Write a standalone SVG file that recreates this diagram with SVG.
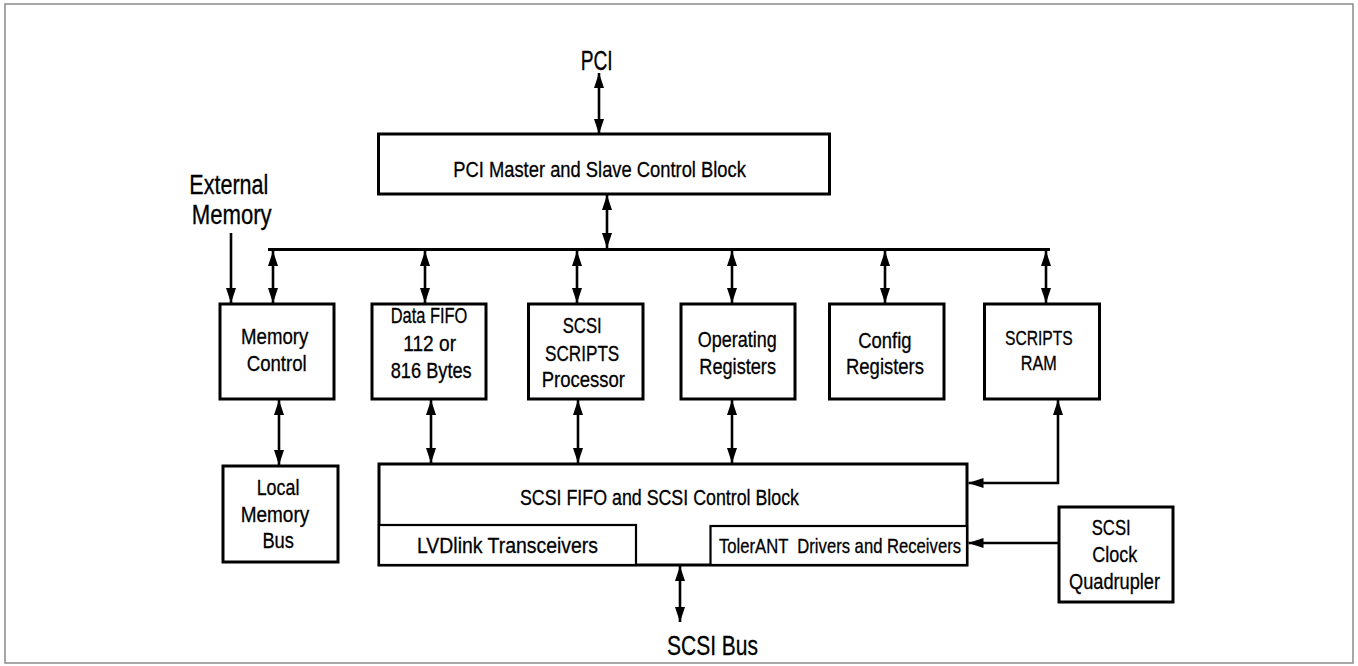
<svg xmlns="http://www.w3.org/2000/svg" width="1358" height="666" viewBox="0 0 1358 666">
<defs>
<marker id="ah" viewBox="0 0 15 10" refX="15" refY="5" markerWidth="15" markerHeight="10" markerUnits="userSpaceOnUse" orient="auto-start-reverse">
<path d="M0,0 L15,5 L0,10 z" fill="#000"/>
</marker>
<style>
.box{fill:#fff;stroke:#000;stroke-width:3}
.sub{fill:#fff;stroke:#000;stroke-width:2.2}
.t{font-family:"Liberation Sans Narrow","Liberation Sans",Arial,sans-serif;font-size:22px;fill:#000;stroke:#000;stroke-width:0.3}
.tl{font-family:"Liberation Sans Narrow","Liberation Sans",Arial,sans-serif;font-size:27px;fill:#000;stroke:#000;stroke-width:0.3}
.ts{font-family:"Liberation Sans Narrow","Liberation Sans",Arial,sans-serif;font-size:21px;fill:#000;stroke:#000;stroke-width:0.3}
.c{fill:none;stroke:#000;stroke-width:2.6}
.dbl{marker-start:url(#ah);marker-end:url(#ah)}
.one{marker-end:url(#ah)}
</style>
</defs>
<rect width="1358" height="666" fill="#fff"/>
<rect x="5" y="4" width="1348" height="659" fill="none" stroke="#8a8a8a" stroke-width="1.5"/>

<g id="connectors">
<line class="c dbl" x1="599" y1="73" x2="599" y2="134"/>
<line class="c dbl" x1="607" y1="195" x2="607" y2="248"/>
<line x1="268" y1="249.5" x2="1050" y2="249.5" stroke="#000" stroke-width="3.2"/>
<line class="c dbl" x1="273" y1="251" x2="273" y2="303"/>
<line class="c dbl" x1="425" y1="251" x2="425" y2="303"/>
<line class="c dbl" x1="577" y1="251" x2="577" y2="303"/>
<line class="c dbl" x1="732" y1="251" x2="732" y2="303"/>
<line class="c dbl" x1="885" y1="251" x2="885" y2="303"/>
<line class="c dbl" x1="1046" y1="251" x2="1046" y2="303"/>
<line class="c one" x1="231" y1="233" x2="231" y2="303"/>
<line class="c dbl" x1="279" y1="400" x2="279" y2="465"/>
<line class="c dbl" x1="431" y1="400" x2="431" y2="463"/>
<line class="c dbl" x1="578" y1="400" x2="578" y2="463"/>
<line class="c dbl" x1="732" y1="400" x2="732" y2="463"/>
<path class="c dbl" d="M1058,400 L1058,483 L968.5,483"/>
<line class="c one" x1="1059" y1="543" x2="968.5" y2="543"/>
<line class="c dbl" x1="680" y1="566" x2="680" y2="622"/>
</g>

<g id="pci-label"><text class="tl" x="580.7" y="70" textLength="32" lengthAdjust="spacingAndGlyphs">PCI</text></g>

<g id="external-memory-label">
<text class="tl" x="189.3" y="194" textLength="79" lengthAdjust="spacingAndGlyphs">External</text>
<text class="tl" x="191.7" y="224" textLength="80" lengthAdjust="spacingAndGlyphs">Memory</text>
</g>

<g id="pci-master">
<rect class="box" x="378.5" y="134" width="451" height="60"/>
<text class="t" x="453.3" y="176.7" textLength="292.6" lengthAdjust="spacingAndGlyphs">PCI Master and Slave Control Block</text>
</g>

<g id="memory-control">
<rect class="box" x="220" y="304" width="114" height="95"/>
<text class="t" x="241" y="344" textLength="67.3" lengthAdjust="spacingAndGlyphs">Memory</text>
<text class="t" x="246.7" y="370.7" textLength="60" lengthAdjust="spacingAndGlyphs">Control</text>
</g>

<g id="data-fifo">
<rect class="box" x="372" y="304" width="114" height="95"/>
<text class="t" x="390.7" y="323.3" textLength="76.7" lengthAdjust="spacingAndGlyphs">Data FIFO</text>
<text class="t" x="403.3" y="351.2" textLength="52.7" lengthAdjust="spacingAndGlyphs">112 or</text>
<text class="t" x="390.7" y="377.7" textLength="81" lengthAdjust="spacingAndGlyphs">816 Bytes</text>
</g>

<g id="scsi-scripts-processor">
<rect class="box" x="528.5" y="304" width="114.5" height="95"/>
<text class="t" x="562.7" y="333.3" textLength="39" lengthAdjust="spacingAndGlyphs">SCSI</text>
<text class="t" x="545" y="360.7" textLength="74.3" lengthAdjust="spacingAndGlyphs">SCRIPTS</text>
<text class="t" x="541.7" y="387" textLength="83.3" lengthAdjust="spacingAndGlyphs">Processor</text>
</g>

<g id="operating-registers">
<rect class="box" x="681" y="304" width="114" height="95"/>
<text class="t" x="697.7" y="346.7" textLength="79" lengthAdjust="spacingAndGlyphs">Operating</text>
<text class="t" x="699.3" y="373.5" textLength="76.7" lengthAdjust="spacingAndGlyphs">Registers</text>
</g>

<g id="config-registers">
<rect class="box" x="829.5" y="304" width="114.5" height="95"/>
<text class="t" x="858.3" y="347.5" textLength="53.3" lengthAdjust="spacingAndGlyphs">Config</text>
<text class="t" x="846" y="373.5" textLength="78" lengthAdjust="spacingAndGlyphs">Registers</text>
</g>

<g id="scripts-ram">
<rect class="box" x="984.5" y="304" width="115" height="95"/>
<text class="ts" x="1005" y="345" textLength="67.7" lengthAdjust="spacingAndGlyphs">SCRIPTS</text>
<text class="ts" x="1020.7" y="370" textLength="36" lengthAdjust="spacingAndGlyphs">RAM</text>
</g>

<g id="local-memory-bus">
<rect class="box" x="223" y="466" width="115" height="96"/>
<text class="t" x="256.7" y="495" textLength="42.7" lengthAdjust="spacingAndGlyphs">Local</text>
<text class="t" x="240.7" y="521.7" textLength="68.5" lengthAdjust="spacingAndGlyphs">Memory</text>
<text class="t" x="262.4" y="548.3" textLength="31.6" lengthAdjust="spacingAndGlyphs">Bus</text>
</g>

<g id="scsi-fifo-control">
<rect class="box" x="379" y="464" width="588" height="101"/>
<text class="t" x="520" y="505" textLength="279" lengthAdjust="spacingAndGlyphs">SCSI FIFO and SCSI Control Block</text>
</g>

<g id="lvdlink">
<rect class="sub" x="379" y="525" width="257" height="40"/>
<text class="t" x="417" y="553.3" textLength="181" lengthAdjust="spacingAndGlyphs">LVDlink Transceivers</text>
</g>

<g id="tolerant">
<rect class="sub" x="710.5" y="526" width="256.5" height="39"/>
<text class="ts" x="719" y="553.3" textLength="242" lengthAdjust="spacingAndGlyphs" xml:space="preserve">TolerANT  Drivers and Receivers</text>
</g>
<rect x="379" y="564" width="588" height="2" fill="#000"/>

<g id="scsi-clock-quadrupler">
<rect class="box" x="1059" y="507" width="114" height="95"/>
<text class="t" x="1091.7" y="535" textLength="39" lengthAdjust="spacingAndGlyphs">SCSI</text>
<text class="t" x="1092.3" y="561.7" textLength="45" lengthAdjust="spacingAndGlyphs">Clock</text>
<text class="t" x="1069" y="589" textLength="91" lengthAdjust="spacingAndGlyphs">Quadrupler</text>
</g>

<g id="scsi-bus-label"><text class="tl" x="667" y="655" textLength="91" lengthAdjust="spacingAndGlyphs">SCSI Bus</text></g>
</svg>
